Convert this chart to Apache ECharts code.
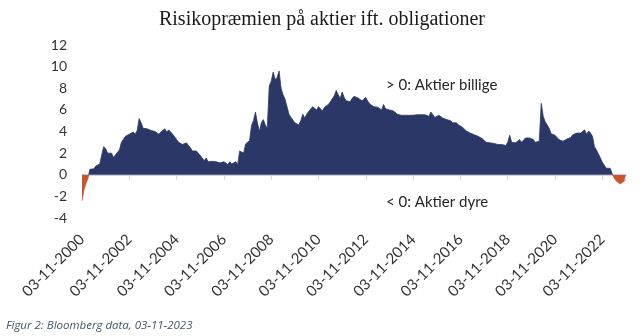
<!DOCTYPE html>
<html>
<head>
<meta charset="utf-8">
<script src="https://cdn.jsdelivr.net/npm/echarts@6/dist/echarts.min.js"></script>
<style>
  html, body { margin: 0; padding: 0; background: #ffffff; }
  #chart { width: 644px; height: 336px; }
</style>
</head>
<body>
<div id="chart"></div>
<script>
// Equity risk premium vs. bonds, monthly readings from Nov 2000 to Nov 2023 (%-points)
const titleText = 'Risikopræmien på aktier ift. obligationer';
const sourceText = 'Figur 2: Bloomberg data, 03-11-2023';
const noteAbove = '> 0: Aktier billige';
const noteBelow = '< 0: Aktier dyre';

const startYear = 2000;
const startMonth = 11;

const yTicks = { min: -4, max: 12, step: 2 };

const premium2000to2002 = [
  -2.4, -1.4, -0.8, -0.35, 0.5, 0.6, 0.55, 0.8, 0.9, 1.0, 1.05, 2.6,
  2.4, 2.0, 2.15, 2.0, 1.6, 1.85, 2.0, 2.3, 3.0, 3.0, 3.55, 3.7
];
const premium2002to2004 = [
  3.75, 3.85, 3.95, 3.75, 4.1, 5.2, 4.8, 4.3, 4.25, 4.25, 4.15, 4.1,
  4.25, 4.0, 3.85, 3.75, 3.95, 3.85, 4.25, 3.95, 4.15, 3.95, 3.75, 3.7
];
const premium2004to2006 = [
  3.25, 3.0, 2.9, 2.8, 2.85, 2.95, 2.7, 2.5, 2.2, 2.2, 2.2, 2.0,
  1.85, 1.55, 1.3, 1.55, 1.2, 1.1, 1.25, 1.1, 1.2, 1.25, 1.1, 1.2
];
const premium2006to2008 = [
  1.2, 1.1, 0.95, 1.2, 1.0, 1.1, 1.2, 0.95, 2.2, 2.15, 2.0, 2.85,
  3.0, 3.15, 4.55, 5.0, 5.8, 4.8, 4.0, 4.8, 5.1, 4.6, 4.3, 8.2
];
const premium2008to2010 = [
  8.65, 9.5, 8.8, 9.0, 9.6, 8.0, 7.4, 7.0, 6.85, 5.6, 5.3, 5.4,
  4.8, 4.7, 4.6, 5.0, 5.6, 5.25, 5.6, 5.85, 5.9, 6.3, 6.3, 6.0
];
const premium2010to2012 = [
  6.3, 6.1, 5.9, 6.25, 6.1, 6.5, 6.75, 6.65, 7.3, 7.8, 7.4, 7.05,
  7.65, 7.15, 6.85, 6.8, 6.75, 7.05, 7.25, 7.15, 7.1, 6.95, 6.85, 6.8
];
const premium2012to2014 = [
  7.15, 6.8, 6.55, 6.4, 6.3, 6.25, 6.25, 6.15, 6.0, 6.5, 6.1, 6.25,
  6.0, 6.15, 5.9, 5.8, 5.6, 5.6, 5.5, 5.55, 5.5, 5.55, 5.5, 5.6
];
const premium2014to2016 = [
  5.5, 5.4, 5.55, 5.5, 5.55, 5.4, 5.55, 5.5, 5.4, 5.8, 5.55, 5.3,
  5.4, 5.5, 5.55, 5.25, 5.2, 5.1, 4.95, 5.0, 4.8, 4.7, 4.8, 4.6
];
const premium2016to2018 = [
  4.55, 4.4, 4.25, 4.05, 4.0, 3.85, 3.75, 3.7, 3.75, 3.55, 3.45, 3.35,
  3.25, 3.0, 2.85, 2.95, 2.85, 2.9, 2.9, 2.8, 2.85, 2.8, 2.65, 2.7
];
const premium2018to2020 = [
  3.0, 3.65, 3.0, 3.15, 2.95, 3.0, 3.25, 3.0, 3.15, 3.4, 3.55, 3.4,
  3.45, 3.25, 3.0, 2.85, 3.1, 6.6, 5.4, 4.9, 4.6, 4.3, 3.8, 3.85
];
const premium2020to2022 = [
  3.65, 3.45, 3.25, 3.2, 3.1, 3.0, 3.3, 3.35, 3.45, 3.7, 3.65, 3.85,
  3.95, 3.85, 4.0, 4.15, 3.75, 4.05, 3.85, 3.55, 2.6, 2.3, 2.3, 1.55
];
const premium2022to2023 = [
  1.15, 1.0, 0.6, 0.45, 0.6, 0.1, -0.3, -0.55, -0.7, -0.85, -0.8, -0.6,
  -0.45
];

const premium = [].concat(
  premium2000to2002, premium2002to2004, premium2004to2006, premium2006to2008,
  premium2008to2010, premium2010to2012, premium2012to2014, premium2014to2016,
  premium2016to2018, premium2018to2020, premium2020to2022, premium2022to2023
);

// Monthly date labels in dd-mm-yyyy form, one per reading
const dates = premium.map(function (_, i) {
  const m = (startMonth - 1 + i) % 12 + 1;
  const y = startYear + Math.floor((startMonth - 1 + i) / 12);
  return '03-' + (m < 10 ? '0' + m : m) + '-' + y;
});

const NAVY = '#2b3867';
const RUST = '#c9532d';
const sansFont = 'Lato, "Open Sans", sans-serif';

const W = 644, H = 336;
const grid = { left: 82, right: 18, top: 45, bottom: 118 };

// Fill switches from navy to rust exactly at the zero line of the value axis
const plotH = H - grid.top - grid.bottom;
const zeroFrac = yTicks.max / (yTicks.max - yTicks.min);
const areaFill = {
  type: 'linear',
  global: true,
  x: 0, y: grid.top, x2: 0, y2: H - grid.bottom,
  colorStops: [
    { offset: 0, color: NAVY },
    { offset: zeroFrac, color: NAVY },
    { offset: zeroFrac, color: RUST },
    { offset: 1, color: RUST }
  ]
};

const chart = echarts.init(document.getElementById('chart'), null, { renderer: 'canvas' });

chart.setOption({
  animation: false,
  backgroundColor: '#ffffff',
  title: {
    text: titleText,
    left: 'center',
    top: 5,
    textStyle: {
      fontFamily: '"Liberation Serif", "DejaVu Serif", serif',
      fontSize: 20,
      fontWeight: 'normal',
      color: '#1a1a1a'
    }
  },
  grid: { left: grid.left, right: grid.right, top: grid.top, bottom: grid.bottom, containLabel: false },
  xAxis: {
    type: 'category',
    data: dates,
    boundaryGap: false,
    axisLine: { onZero: true, lineStyle: { color: '#d4d4d4', width: 1 } },
    axisTick: { show: true, interval: 23, length: 5, lineStyle: { color: '#d4d4d4' } },
    axisLabel: {
      interval: 23,
      rotate: 45,
      margin: 19,
      color: '#333333',
      fontFamily: sansFont,
      fontSize: 15
    },
    splitLine: { show: false }
  },
  yAxis: {
    type: 'value',
    min: yTicks.min,
    max: yTicks.max,
    interval: yTicks.step,
    axisLine: { show: false },
    axisTick: { show: false },
    splitLine: { show: false },
    axisLabel: {
      margin: 15,
      color: '#333333',
      fontFamily: sansFont,
      fontSize: 14
    }
  },
  series: [{
    type: 'line',
    data: premium,
    showSymbol: false,
    symbol: 'none',
    lineStyle: { width: 0.8, color: areaFill },
    areaStyle: { opacity: 1, color: areaFill },
    z: 1
  }],
  graphic: [
    {
      type: 'text',
      left: 386,
      top: 78,
      style: { text: noteAbove, font: '15px ' + sansFont, fill: '#262626' }
    },
    {
      type: 'text',
      left: 386,
      top: 195,
      style: { text: noteBelow, font: '15px ' + sansFont, fill: '#262626' }
    },
    {
      type: 'text',
      left: 6,
      top: 320,
      style: {
        text: sourceText,
        font: 'italic 11.5px "Open Sans", "Noto Sans", sans-serif',
        fill: '#44546a'
      }
    }
  ]
});
</script>
</body>
</html>
